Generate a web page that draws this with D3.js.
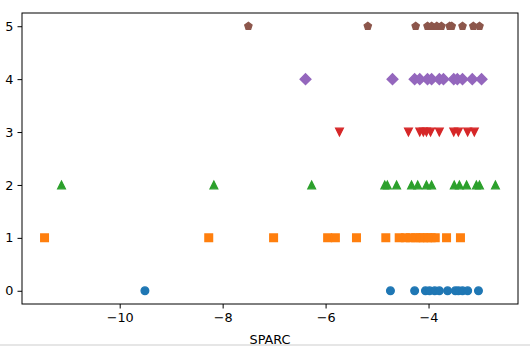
<!DOCTYPE html>
<html>
<head>
<meta charset="utf-8">
<script src="https://cdn.jsdelivr.net/npm/d3@7"></script>
<style>
  body { margin: 0; background: #fff; }
  svg { display: block; }
  text { font-family: "DejaVu Sans", sans-serif; }
</style>
</head>
<body>
<div id="chart"></div>
<script>
// SPARC values per class (class = y level)
const class0 = [-9.51, -4.74, -4.27, -4.06, -3.98, -3.88, -3.79, -3.63, -3.48, -3.42, -3.34, -3.24, -3.03]
const class1 = [-11.46, -8.27, -7.01, -5.96, -5.81, -5.40, -4.83, -4.57, -4.45, -4.35, -4.25, -4.17, -4.10, -4.02, -3.95, -3.87, -3.65, -3.38]
const class2 = [-11.13, -8.17, -6.27, -4.85, -4.80, -4.62, -4.33, -4.21, -4.04, -3.94, -3.50, -3.40, -3.26, -3.07, -3.01, -2.70]
const class3 = [-5.73, -4.39, -4.17, -4.10, -4.04, -3.96, -3.79, -3.51, -3.42, -3.24, -3.11]
const class4 = [-6.39, -4.70, -4.27, -4.17, -4.02, -3.94, -3.79, -3.71, -3.51, -3.44, -3.34, -3.15, -2.97]
const class5 = [-7.50, -5.18, -4.25, -4.02, -3.94, -3.84, -3.75, -3.59, -3.55, -3.34, -3.13, -3.01]

const classes = [class0, class1, class2, class3, class4, class5]
const markers = ["circle", "square", "triangleUp", "triangleDown", "diamond", "pentagon"]
const colors = ["#1f77b4", "#ff7f0e", "#2ca02c", "#d62728", "#9467bd", "#8c564b"]
const xTicks = [-10, -8, -6, -4]
const yTicks = [0, 1, 2, 3, 4, 5]
const xLabel = "SPARC"

const width = 530
const height = 346
const margin = { left: 22, right: 12, top: 13, bottom: 42 }

// matplotlib style 5% margins
const allX = classes.flat()
const xMin = d3.min(allX), xMax = d3.max(allX)
const xPad = (xMax - xMin) * 0.05

const xScale = d3.scaleLinear()
                  .domain([xMin - xPad, xMax + xPad])
                  .range([margin.left, width - margin.right])
const yScale = d3.scaleLinear()
                  .domain([-0.25, 5.25])
                  .range([height - margin.bottom, margin.top])

const svg = d3.select("#chart")
              .append("svg")
                .attr("width", width)
                .attr("height", height)

const s = 7.7   // marker size in px

function markerPath(kind) {
  const h = s / 2
  if (kind === "circle") {
    return "M" + h + ",0A" + h + "," + h + " 0 1,1 " + (-h) + ",0A" + h + "," + h + " 0 1,1 " + h + ",0Z"
  }
  if (kind === "square") {
    return "M" + (-h) + "," + (-h) + "H" + h + "V" + h + "H" + (-h) + "Z"
  }
  if (kind === "triangleUp") {
    return "M0," + (-h) + "L" + (-h) + "," + h + "L" + h + "," + h + "Z"
  }
  if (kind === "triangleDown") {
    return "M0," + h + "L" + (-h) + "," + (-h) + "L" + h + "," + (-h) + "Z"
  }
  if (kind === "diamond") {
    const d = s / Math.SQRT2
    return "M0," + (-d) + "L" + d + ",0L0," + d + "L" + (-d) + ",0Z"
  }
  // pentagon
  const pts = d3.range(5).map(i => {
    const a = -Math.PI / 2 + i * 2 * Math.PI / 5
    return [h * Math.cos(a), h * Math.sin(a)]
  })
  return "M" + pts.map(p => p.join(",")).join("L") + "Z"
}

// Points
classes.forEach((vals, ci) => {
  svg.append("g")
      .selectAll("path")
        .data(vals).enter()
          .append("path")
            .attr("d", markerPath(markers[ci]))
            .attr("transform", d => "translate(" + xScale(d) + "," + yScale(ci) + ")")
            .attr("fill", colors[ci])
            .attr("stroke", colors[ci])
            .attr("stroke-width", 1.3)
            .attr("stroke-linejoin", "miter")
})

// Axes
const xAxis = d3.axisBottom(xScale).tickValues(xTicks).tickSize(4.5).tickPadding(4).tickSizeOuter(0)
const gx = svg.append("g")
              .attr("transform", "translate(0," + (height - margin.bottom) + ")")
              .call(xAxis)
gx.select(".domain").remove()
gx.selectAll("text").attr("font-size", 12.8).attr("fill", "#000").attr("font-family", "DejaVu Sans")
gx.selectAll("line").attr("stroke", "#000")

const yAxis = d3.axisLeft(yScale).tickValues(yTicks).tickFormat(d3.format("d")).tickSize(4.5).tickPadding(4).tickSizeOuter(0)
const gy = svg.append("g")
              .attr("transform", "translate(" + margin.left + ",0)")
              .call(yAxis)
gy.select(".domain").remove()
gy.selectAll("text").attr("font-size", 12.8).attr("fill", "#000").attr("font-family", "DejaVu Sans")
gy.selectAll("line").attr("stroke", "#000")

// Frame
svg.append("rect")
    .attr("x", margin.left)
    .attr("y", margin.top)
    .attr("width", width - margin.left - margin.right)
    .attr("height", height - margin.top - margin.bottom)
    .attr("fill", "none")
    .attr("stroke", "#000")
    .attr("stroke-width", 1)

svg.append("text")
    .text(xLabel)
      .attr("x", (margin.left + width - margin.right) / 2)
      .attr("y", 344)
      .attr("text-anchor", "middle")
      .attr("font-size", 12.8)

// bottom divider strip
svg.append("rect")
    .attr("x", 0)
    .attr("y", 344)
    .attr("width", width)
    .attr("height", 2)
    .attr("fill", "#e6e6e6")
</script>
</body>
</html>
